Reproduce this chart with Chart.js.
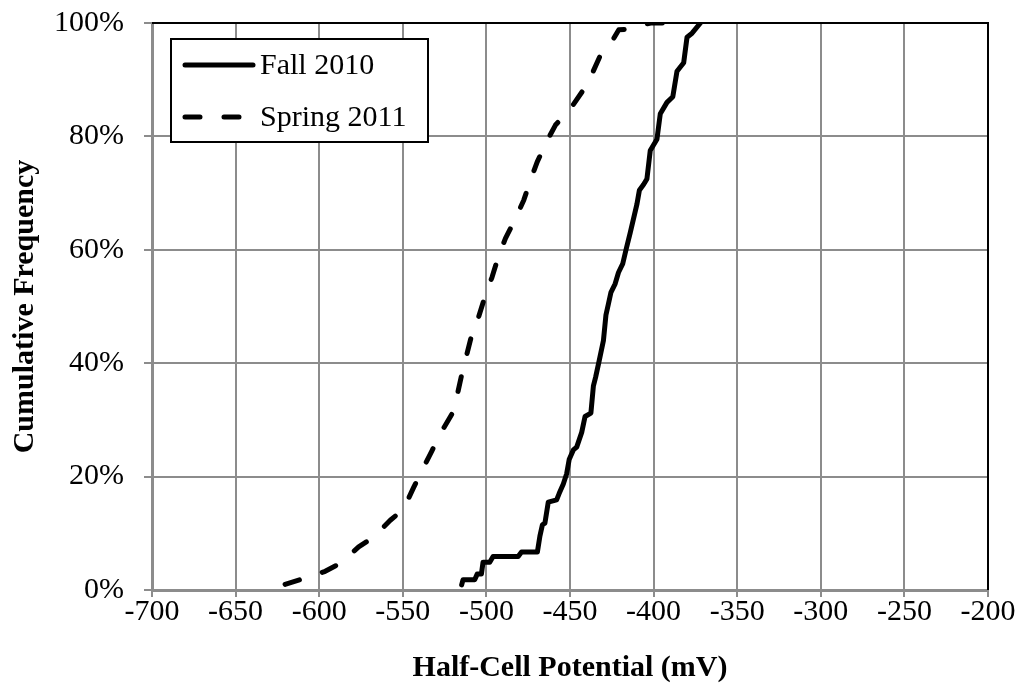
<!DOCTYPE html>
<html>
<head>
<meta charset="utf-8">
<script src="https://cdn.jsdelivr.net/npm/chart.js@4.4.1/dist/chart.umd.min.js"></script>
<style>
  html, body { margin: 0; padding: 0; background: #fff; }
  #wrap { width: 1021px; height: 688px; position: relative; }
</style>
</head>
<body>
<div id="wrap"><canvas id="chart"></canvas></div>
<script>
// values
const seriesNames = ['Fall 2010', 'Spring 2011'];

const fallX = [-514.8, -514, -507, -505.5, -503, -502, -498, -496, -481, -479, -469.5, -468, -466.5,
  -465, -463, -458, -456.5, -454, -452, -450.5, -448, -446, -443, -441, -437.5, -436, -434.7,
  -432.5, -430, -428.5, -427, -425.5, -423, -421, -418.5, -416.5, -414, -412, -410, -408.5,
  -406, -404, -402, -398, -396, -392, -388.5, -386, -382, -380, -377, -372];
const fallY = [0.9, 1.8, 1.8, 2.8, 2.8, 4.9, 4.9, 5.9, 5.9, 6.7, 6.7, 9.5, 11.5,
  11.8, 15.5, 15.9, 17, 18.7, 20.5, 23, 24.7, 25.2, 27.8, 30.6, 31.2, 36, 37.5,
  40.5, 44, 48.5, 50.5, 52.5, 54, 56, 57.5, 60, 63, 65.5, 68, 70.5,
  71.5, 72.5, 77.5, 79.5, 84, 86, 87, 91.5, 93, 97.5, 98.2, 100];

const springX = [-620.4, -609.4, -596.4, -587.4, -576.4, -567.5, -557.5, -549.5, -543.5, -538.5,
  -532.5, -527.5, -520.5, -517.5, -514.6, -512, -508.6, -504.6, -500.6, -496.6, -492.6, -488.6,
  -482.6, -477.6, -473.6, -469.6, -463.6, -458.7, -449.7, -442.7, -436.7, -431.7, -423.8,
  -420.8, -414.8, -408, -401.8, -390];
const springY = [1, 2, 3.3, 4.7, 7.6, 9.3, 12.3, 14.3, 18.1, 21.1,
  24.6, 27.6, 31.1, 34.3, 38.2, 41.2, 45.2, 48.2, 52, 55.2, 59, 62,
  65.5, 68.8, 72.3, 75.5, 79.3, 82, 84.9, 87.9, 91.1, 94.4, 97.3,
  98.8, 98.9, 99.6, 100, 100];

const xMin = -700, xMax = -200, xStep = 50;
const yMin = 0, yMax = 100, yStep = 20;

const FONT = "'Liberation Serif', 'Times New Roman', serif";
const GRID = '#8c8c8c';

function toPoints(xs, ys) {
  return xs.map((x, i) => ({ x: x, y: ys[i] }));
}

// top + right border of the plot area, and the boxed legend
const framePlugin = {
  id: 'frame',
  afterDatasetsDraw(chart) {
    const { ctx, chartArea: a } = chart;
    ctx.save();
    ctx.strokeStyle = '#000';
    ctx.lineWidth = 2;
    ctx.beginPath();
    ctx.moveTo(a.left, a.top);
    ctx.lineTo(a.right, a.top);
    ctx.lineTo(a.right, a.bottom);
    ctx.stroke();

    // legend box
    const bx = a.left + 19, by = a.top + 16, bw = 257, bh = 103;
    ctx.fillStyle = '#fff';
    ctx.fillRect(bx, by, bw, bh);
    ctx.strokeRect(bx, by, bw, bh);
    chart.data.datasets.forEach((ds, i) => {
      const y = by + 26 + i * 52;
      ctx.save();
      ctx.strokeStyle = ds.borderColor;
      ctx.lineWidth = ds.borderWidth;
      ctx.lineCap = 'round';
      ctx.setLineDash(ds.borderDash || []);
      ctx.beginPath();
      ctx.moveTo(bx + 14, y);
      ctx.lineTo(bx + 82, y);
      ctx.stroke();
      ctx.restore();
      ctx.fillStyle = '#000';
      ctx.font = '30px ' + FONT;
      ctx.textBaseline = 'middle';
      ctx.fillText(ds.label, bx + 89, y + 1);
    });
    ctx.restore();
  }
};

new Chart(document.getElementById('chart').getContext('2d'), {
  type: 'scatter',
  data: {
    datasets: [
      {
        label: seriesNames[0],
        data: toPoints(fallX, fallY),
        showLine: true,
        borderColor: '#000',
        borderWidth: 5,
        borderCapStyle: 'round',
        borderJoinStyle: 'round',
        pointRadius: 0,
        tension: 0
      },
      {
        label: seriesNames[1],
        data: toPoints(springX, springY),
        showLine: true,
        borderColor: '#000',
        borderWidth: 5,
        borderDash: [15, 24],
        borderCapStyle: 'round',
        borderJoinStyle: 'round',
        pointRadius: 0,
        tension: 0
      }
    ]
  },
  options: {
    responsive: true,
    maintainAspectRatio: false,
    animation: false,
    layout: { padding: { left: 0, top: 23, right: 33, bottom: 0 } },
    plugins: {
      legend: { display: false },
      tooltip: { enabled: false }
    },
    scales: {
      x: {
        type: 'linear',
        min: xMin,
        max: xMax,
        afterFit(scale) {
          scale.height = 98;
          scale.paddingLeft = 0;
          scale.paddingRight = 0;
        },
        ticks: {
          stepSize: xStep,
          color: '#000',
          font: { family: FONT, size: 30 },
          padding: -3,
          maxRotation: 0
        },
        grid: { color: GRID, lineWidth: 2, tickLength: 7, tickColor: GRID },
        border: { color: GRID, width: 3 },
        title: {
          display: true,
          text: 'Half-Cell Potential (mV)',
          color: '#000',
          font: { family: FONT, size: 30, weight: 'bold' },
          padding: { top: 0, bottom: 2 }
        }
      },
      y: {
        type: 'linear',
        min: yMin,
        max: yMax,
        afterFit(scale) {
          scale.width = 152;
          scale.paddingTop = 0;
          scale.paddingBottom = 0;
        },
        ticks: {
          stepSize: yStep,
          color: '#000',
          font: { family: FONT, size: 30 },
          padding: 20,
          callback: (v) => v + '%'
        },
        grid: { color: GRID, lineWidth: 2, tickLength: 8, tickColor: GRID },
        border: { color: GRID, width: 3 },
        title: {
          display: true,
          text: 'Cumulative Frequency',
          color: '#000',
          font: { family: FONT, size: 30, weight: 'bold' },
          padding: { top: 7, bottom: 0 }
        }
      }
    }
  },
  plugins: [framePlugin]
});
</script>
</body>
</html>
